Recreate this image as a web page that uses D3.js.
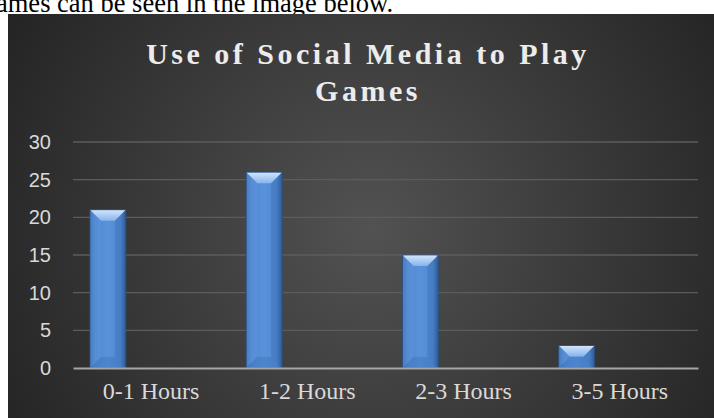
<!DOCTYPE html>
<html>
<head>
<meta charset="utf-8">
<script src="https://cdn.jsdelivr.net/npm/d3@7"></script>
<style>
  html, body { margin: 0; padding: 0; background: #fff; overflow: hidden; }
</style>
</head>
<body>
<div id="canvas"></div>
<script>
var width = 714;
var height = 418;

var categories = ['0-1 Hours', '1-2 Hours', '2-3 Hours', '3-5 Hours'];
var values = [21, 26, 15, 3];
var yTicks = [0, 5, 10, 15, 20, 25, 30];
var titleLines = ['Use of Social Media to Play', 'Games'];

var box = {x: 8, y: 14, w: 706, h: 404};
var plot = {left: 73, right: 698, top: 142, bottom: 368};
var bevel = 11;

var svg = d3.select('#canvas')
    .append('svg')
    .attr('width', width)
    .attr('height', height);

var defs = svg.append('defs');

var bg = defs.append('radialGradient')
    .attr('id', 'bg')
    .attr('gradientUnits', 'userSpaceOnUse')
    .attr('cx', 370).attr('cy', 230).attr('r', 420);
bg.append('stop').attr('offset', '0%').attr('stop-color', '#525252');
bg.append('stop').attr('offset', '100%').attr('stop-color', '#242424');

var barFill = defs.append('linearGradient')
    .attr('id', 'barFill')
    .attr('x1', 0).attr('x2', 1).attr('y1', 0).attr('y2', 0);
barFill.append('stop').attr('offset', '0%').attr('stop-color', '#3f73b6');
barFill.append('stop').attr('offset', '15%').attr('stop-color', '#4f88d2');
barFill.append('stop').attr('offset', '50%').attr('stop-color', '#5a92da');
barFill.append('stop').attr('offset', '85%').attr('stop-color', '#4f88d2');
barFill.append('stop').attr('offset', '100%').attr('stop-color', '#2e5a94');

var topFill = defs.append('linearGradient')
    .attr('id', 'topFill')
    .attr('x1', 0).attr('x2', 0).attr('y1', 0).attr('y2', 1);
topFill.append('stop').attr('offset', '0%').attr('stop-color', '#d2e4fa');
topFill.append('stop').attr('offset', '100%').attr('stop-color', '#86b4ec');

// text above the chart, cut by it
svg.append('text')
    .attr('x', -4)
    .attr('y', 12)
    .style('font-family', '"Liberation Serif", "Times New Roman", serif')
    .style('font-size', '26.5px')
    .style('fill', '#000')
    .text('ames can be seen in the image below.');

svg.append('rect')
    .attr('x', box.x)
    .attr('y', box.y)
    .attr('width', box.w)
    .attr('height', box.h)
    .style('fill', 'url(#bg)');

svg.append('g')
    .selectAll('text')
    .data(titleLines)
    .enter()
    .append('text')
    .attr('x', 368)
    .attr('y', function (d, i) { return 64 + i * 37; })
    .attr('text-anchor', 'middle')
    .style('font-family', '"Liberation Serif", "Times New Roman", serif')
    .style('font-weight', 'bold')
    .style('font-size', '30px')
    .style('letter-spacing', '3.5px')
    .style('fill', '#ececec')
    .text(function (d) { return d; });

var y = d3.scaleLinear()
    .domain([0, 30])
    .range([plot.bottom, plot.top]);

var xCat = d3.scaleBand()
    .domain(categories)
    .range([plot.left, plot.right]);

var xBar = d3.scaleBand()
    .domain(categories)
    .range([plot.left, plot.right])
    .paddingInner(0.77)
    .paddingOuter(0.385)
    .align(0.141);

// gridlines
svg.append('g')
    .selectAll('line')
    .data(yTicks.slice(1))
    .enter()
    .append('line')
    .attr('x1', plot.left)
    .attr('x2', plot.right)
    .attr('y1', function (d) { return y(d); })
    .attr('y2', function (d) { return y(d); })
    .style('stroke', '#5c5c5c')
    .style('stroke-width', 1.3);

// y axis
var yAxis = svg.append('g')
    .attr('transform', 'translate(' + (plot.left - 22) + ',0)')
    .call(d3.axisLeft(y).tickValues(yTicks).tickSize(0).tickPadding(0));
yAxis.select('.domain').remove();
yAxis.selectAll('text')
    .style('font-family', '"Liberation Sans", Arial, sans-serif')
    .style('font-size', '20px')
    .style('fill', '#d9d9d9');

// bars
var bars = svg.append('g')
    .selectAll('g')
    .data(values)
    .enter()
    .append('g');

bars.append('rect')
    .attr('x', function (d, i) { return xBar(categories[i]); })
    .attr('y', function (d) { return y(d); })
    .attr('width', xBar.bandwidth())
    .attr('height', function (d) { return y(0) - y(d); })
    .style('fill', 'url(#barFill)')
    .style('stroke', '#2a4f80')
    .style('stroke-width', 0.8);

// top bevel
bars.append('polygon')
    .attr('points', function (d, i) {
        var x0 = xBar(categories[i]);
        var w = xBar.bandwidth();
        var t = y(d);
        var b = Math.min(bevel, (y(0) - t) / 2);
        return [[x0 + 0.5, t + 0.5], [x0 + w - 0.5, t + 0.5], [x0 + w - b, t + b], [x0 + b, t + b]].join(' ');
    })
    .style('fill', 'url(#topFill)');

// left side bevel
bars.append('polygon')
    .attr('points', function (d, i) {
        var x0 = xBar(categories[i]);
        var t = y(d);
        var bt = y(0);
        var b = Math.min(bevel, (bt - t) / 2);
        return [[x0 + 0.5, t + 0.5], [x0 + b, t + b], [x0 + b, bt - b], [x0 + 0.5, bt]].join(' ');
    })
    .style('fill', '#6a9de0')
    .style('opacity', 0.25);

// right side bevel
bars.append('polygon')
    .attr('points', function (d, i) {
        var x0 = xBar(categories[i]);
        var w = xBar.bandwidth();
        var t = y(d);
        var bt = y(0);
        var b = Math.min(bevel, (bt - t) / 2);
        return [[x0 + w - 0.5, t + 0.5], [x0 + w - b, t + b], [x0 + w - b, bt - b], [x0 + w - 0.5, bt]].join(' ');
    })
    .style('fill', '#2f5c98')
    .style('opacity', 0.25);

// bottom bevel
bars.append('polygon')
    .attr('points', function (d, i) {
        var x0 = xBar(categories[i]);
        var w = xBar.bandwidth();
        var t = y(d);
        var bt = y(0);
        var b = Math.min(bevel, (bt - t) / 2);
        return [[x0, bt], [x0 + w, bt], [x0 + w - b, bt - b], [x0 + b, bt - b]].join(' ');
    })
    .style('fill', '#3a6cae')
    .style('opacity', 0.35);

// x axis
var xAxis = svg.append('g')
    .attr('transform', 'translate(0,' + plot.bottom + ')')
    .call(d3.axisBottom(xCat).tickSize(0).tickPadding(14));
xAxis.select('.domain')
    .style('stroke', '#a6a6a6')
    .style('stroke-width', 2);
xAxis.selectAll('text')
    .attr('dy', '0.71em')
    .style('font-family', '"Liberation Serif", "Times New Roman", serif')
    .style('font-size', '24px')
    .style('fill', '#d9d9d9');
</script>
</body>
</html>
